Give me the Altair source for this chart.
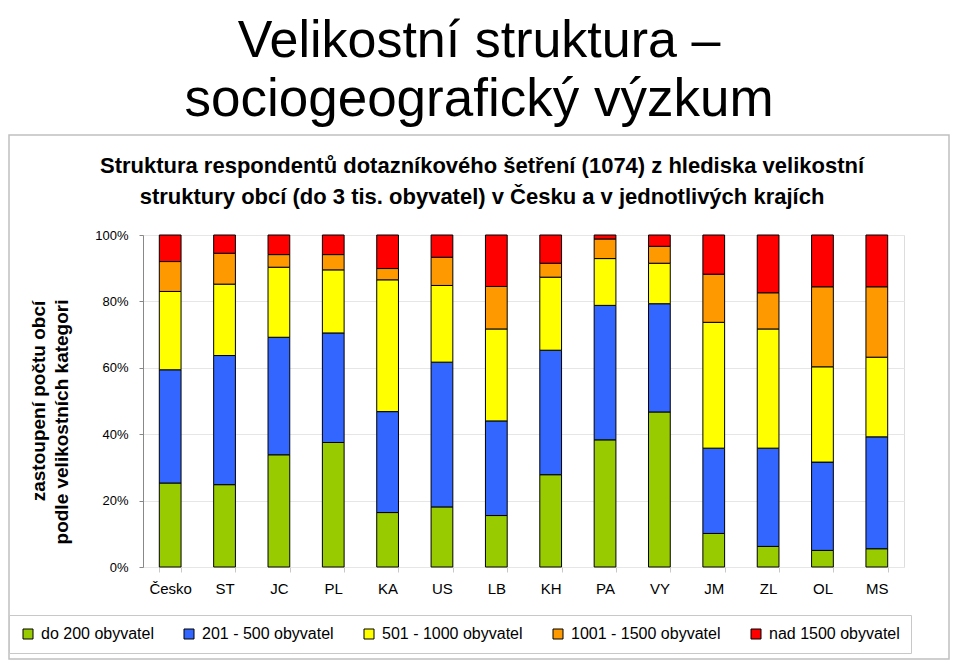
import altair as alt
import pandas as pd

regions = ["Česko", "ST", "JC", "PL", "KA", "US", "LB", "KH", "PA", "VY", "JM", "ZL", "OL", "MS"]
categories = ["do 200 obyvatel", "201 - 500 obyvatel", "501 - 1000 obyvatel",
              "1001 - 1500 obyvatel", "nad 1500 obyvatel"]
colors = ["#99CC00", "#3366FF", "#FFFF00", "#FF9900", "#FF0000"]

do_200 = [25.3, 24.8, 33.8, 37.5, 16.4, 18.1, 15.5, 27.8, 38.3, 46.7, 10.1, 6.2, 5.0, 5.5]
od_201_500 = [34.1, 38.9, 35.4, 33.0, 30.4, 43.6, 28.5, 37.5, 40.5, 32.6, 25.7, 29.6, 26.6, 33.7]
od_501_1000 = [23.6, 21.5, 21.1, 19.0, 39.7, 23.1, 27.7, 22.0, 14.1, 12.2, 37.9, 35.9, 28.7, 24.0]
od_1001_1500 = [9.0, 9.3, 3.8, 4.6, 3.4, 8.5, 12.8, 4.2, 5.9, 5.1, 14.5, 10.9, 24.1, 21.2]
nad_1500 = [8.0, 5.5, 5.9, 5.9, 10.1, 6.7, 15.5, 8.5, 1.2, 3.4, 11.8, 17.4, 15.6, 15.6]

series = [do_200, od_201_500, od_501_1000, od_1001_1500, nad_1500]
rows = []
for k, (cat, vals) in enumerate(zip(categories, series)):
    for r, v in zip(regions, vals):
        rows.append({"kraj": r, "kategorie": cat, "k": k, "hodnota": v})
df = pd.DataFrame(rows)

main_title = ["Velikostní struktura –", "sociogeografický výzkum"]
chart_title = ["Struktura respondentů dotazníkového šetření (1074) z hlediska velikostní",
               "struktury obcí (do 3 tis. obyvatel) v Česku a v jednotlivých krajích"]
y_title = ["zastoupení počtu obcí", "podle velikostních kategori"]

one = pd.DataFrame({"a": [0]})

frame = alt.Chart(one).mark_rect(fill="white", fillOpacity=0, stroke="#c0c0c0", strokeWidth=1.5).encode(
    x=alt.value(-134), x2=alt.value(806), y=alt.value(-100), y2=alt.value(424)
)

bars = alt.Chart(df).mark_bar(stroke="black", strokeWidth=1).encode(
    x=alt.X("kraj:N", sort=regions,
            scale=alt.Scale(paddingInner=0.6, paddingOuter=0.3),
            axis=alt.Axis(title=None, labelAngle=0, labelFontSize=15, labelColor="black",
                          labelPadding=9, domain=False, ticks=True, tickBand="extent",
                          tickColor="#c8c8c8", tickSize=5)),
    y=alt.Y("hodnota:Q", stack="normalize",
            scale=alt.Scale(domain=[0, 1]),
            axis=alt.Axis(title=None, values=[0, 0.2, 0.4, 0.6, 0.8, 1.0], format=".0%",
                          labelFontSize=13, labelColor="black", labelPadding=11,
                          tickSize=4, tickColor="#888888", domainColor="#888888",
                          gridColor="#e6e6e6")),
    color=alt.Color("kategorie:N",
                    scale=alt.Scale(domain=categories, range=colors),
                    legend=alt.Legend(title=None, orient="none", legendX=-134, legendY=380,
                                      direction="horizontal", symbolType="square",
                                      symbolSize=100, symbolStrokeColor="black",
                                      symbolStrokeWidth=1, labelFontSize=16,
                                      labelColor="black", labelOffset=5, columnPadding=27,
                                      padding=11, strokeColor="#c8c8c8", fillColor="white")),
    order=alt.Order("k:Q", sort="ascending"),
)

def txt(s, x, y, size, weight="normal", font="Liberation Sans", angle=0):
    return alt.Chart(one).mark_text(
        fontSize=size, fontWeight=weight, font=font, align="center",
        baseline="alphabetic" if angle == 0 else "middle", angle=angle, color="black"
    ).encode(x=alt.value(x), y=alt.value(y), text=alt.value(s))

texts = [
    txt(main_title[0], 336, -178, 52),
    txt(main_title[1], 336, -119, 53),
    txt(chart_title[0], 339, -62, 22, "bold"),
    txt(chart_title[1], 339, -31, 22, "bold"),
    txt(y_title[0], -104, 166, 19, "bold", angle=270),
    txt(y_title[1], -81, 187, 19, "bold", angle=270),
]

chart = alt.layer(frame, bars, *texts).properties(
    width=761, height=332,
    autosize=alt.AutoSizeParams(type="none"),
    padding={"left": 135, "top": 227, "right": 47, "bottom": 94},
).configure_view(stroke="#8c8c8c", strokeWidth=1.5).configure(font="Liberation Sans")

chart.save("out.html", embed_options={"renderer": "svg", "actions": False})
